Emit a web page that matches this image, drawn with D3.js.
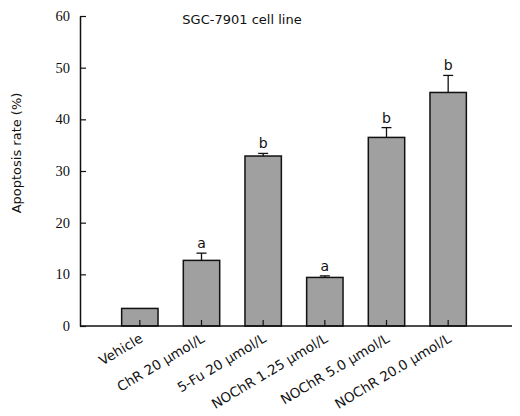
<!DOCTYPE html>
<html>
<head>
<meta charset="utf-8">
<script src="https://cdn.jsdelivr.net/npm/d3@7"></script>
<style>
  html, body { margin: 0; padding: 0; background: #fff; }
  svg { display: block; }
</style>
</head>
<body>
<svg id="chart" width="520" height="416"></svg>
<script>
const categories = ["Vehicle", "ChR 20 \u03bcmol/L", "5-Fu 20 \u03bcmol/L", "NOChR 1.25 \u03bcmol/L", "NOChR 5.0 \u03bcmol/L", "NOChR 20.0 \u03bcmol/L"];
const values = [3.4, 12.7, 32.9, 9.4, 36.5, 45.2];
const errors = [0, 1.4, 0.5, 0.3, 1.9, 3.3];
const sigLabels = ["", "a", "b", "a", "b", "b"];
const yTicks = [0, 10, 20, 30, 40, 50, 60];
const title = "SGC-7901 cell line";
const yTitle = "Apoptosis rate (%)";

const svg = d3.select("#chart");
const sans = "Verdana, 'DejaVu Sans', sans-serif";

const y = d3.scaleLinear().domain([0, 60]).range([326, 16]);
const x = d3.scaleBand().domain(categories).range([109, 479]).paddingInner(0.41).paddingOuter(0.205);

const axisX0 = 80, axisX1 = 512;

// bars
svg.append("g").selectAll("rect").data(values).join("rect")
  .attr("x", (d, i) => x(categories[i]))
  .attr("y", d => y(d))
  .attr("width", x.bandwidth())
  .attr("height", d => y(0) - y(d))
  .attr("fill", "#a0a0a0")
  .attr("stroke", "#111")
  .attr("stroke-width", 1.5);

// error bars (upper only)
const eg = svg.append("g").attr("stroke", "#111").attr("stroke-width", 1.3);
values.forEach((v, i) => {
  if (!errors[i]) return;
  const cx = x(categories[i]) + x.bandwidth() / 2;
  eg.append("line").attr("x1", cx).attr("x2", cx).attr("y1", y(v)).attr("y2", y(v + errors[i]));
  eg.append("line").attr("x1", cx - 5).attr("x2", cx + 5).attr("y1", y(v + errors[i])).attr("y2", y(v + errors[i]));
});

// significance letters
svg.append("g").selectAll("text").data(sigLabels).join("text")
  .attr("x", (d, i) => x(categories[i]) + x.bandwidth() / 2)
  .attr("y", (d, i) => y(values[i] + errors[i]) - 5)
  .attr("text-anchor", "middle")
  .attr("font-family", sans)
  .attr("font-size", 14)
  .attr("fill", "#111")
  .text(d => d);

// x axis
const xAxis = d3.axisBottom(x).tickSizeInner(-6).tickSizeOuter(0).tickFormat("");
const gx = svg.append("g").attr("transform", `translate(0,${y(0)})`).call(xAxis);
gx.select(".domain").remove();
gx.selectAll(".tick line").attr("stroke", "#111").attr("stroke-width", 1.2);
svg.append("line").attr("x1", axisX0).attr("x2", axisX1).attr("y1", y(0)).attr("y2", y(0))
  .attr("stroke", "#111").attr("stroke-width", 1.5);

// x labels rotated
svg.append("g").selectAll("text").data(categories).join("text")
  .attr("transform", d => `translate(${x(d) + x.bandwidth() / 2 + 4},${y(0) + 15}) rotate(-31)`)
  .attr("text-anchor", "end")
  .attr("font-family", sans)
  .attr("font-size", 13.5)
  .attr("fill", "#111")
  .text(d => d);

// y axis
const yAxis = d3.axisLeft(y).tickValues(yTicks).tickSizeInner(-6).tickSizeOuter(0).tickPadding(10);
const gy = svg.append("g").attr("transform", `translate(${axisX0},0)`).call(yAxis);
gy.select(".domain").attr("stroke", "#111").attr("stroke-width", 1.5);
gy.selectAll(".tick line").attr("stroke", "#111").attr("stroke-width", 1.2);
gy.selectAll(".tick text")
  .attr("font-family", "'Liberation Serif', 'Times New Roman', serif")
  .attr("font-size", 14.5)
  .attr("fill", "#111");

// y title
svg.append("text")
  .attr("transform", `translate(21,153) rotate(-90)`)
  .attr("text-anchor", "middle")
  .attr("font-family", sans)
  .attr("font-size", 13)
  .attr("fill", "#111")
  .text(yTitle);

// title
svg.append("text")
  .attr("x", 242).attr("y", 24)
  .attr("text-anchor", "middle")
  .attr("font-family", sans)
  .attr("font-size", 13)
  .attr("fill", "#111")
  .text(title);
</script>
</body>
</html>
